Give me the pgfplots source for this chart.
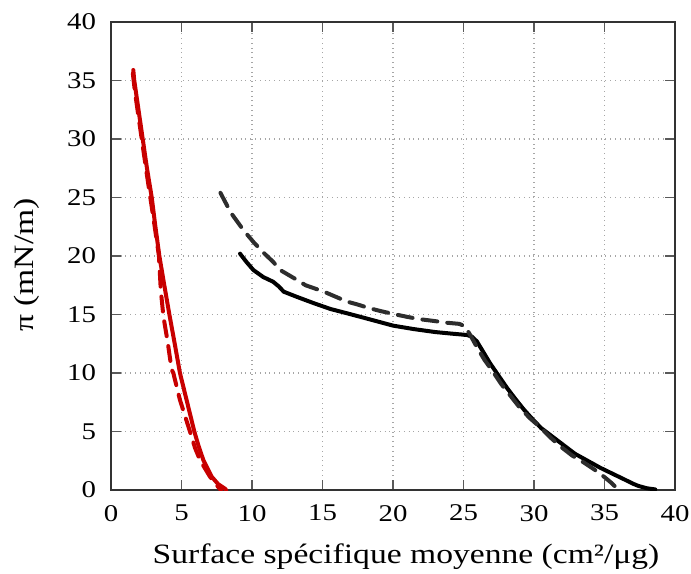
\documentclass[border=0pt]{standalone}
\usepackage{fontspec}
\setmainfont{Liberation Serif}[FakeStretch=1.2]
\usepackage{pgfplots}
\pgfplotsset{compat=1.18}
\definecolor{myred}{RGB}{200,0,0}
\definecolor{mydark}{RGB}{45,45,45}
\begin{document}
\begin{tikzpicture}
\begin{axis}[
  scale only axis,
  width=282pt, height=234pt,
  xmin=0, xmax=40, ymin=0, ymax=40,
  xtick={0,5,...,40}, ytick={0,5,...,40},
  grid=major,
  major grid style={dotted, gray!70, line width=0.6pt},
  tick align=inside,
  major tick length=5pt,
  tick style={gray!70!black, line width=0.6pt},
  axis line style={gray!40!black, line width=0.6pt},
  tick label style={font=\fontsize{12}{14}\selectfont},
  label style={font=\fontsize{14}{16}\selectfont},
  /pgf/number format/assume math mode=true,
  xlabel={Surface spécifique moyenne (cm²/μg)},
  ylabel={π (mN/m)},
  xticklabel style={yshift=-4pt, inner xsep=0.5pt},
  yticklabel style={xshift=-4pt},
  xlabel style={at={(axis description cs:0.523,0)}, anchor=base, yshift=-36.5pt},
  ylabel style={at={(axis description cs:0,0.481)}, anchor=center, yshift=42pt},
  every axis plot/.append style={line join=round, line cap=round},
]
% red solid
\addplot[myred, line width=2pt] coordinates {
(1.58,35.9) (1.65,35) (1.95,32.5) (2.25,30) (2.55,27.5) (2.89,25) (3.15,22.5) (3.43,20) (3.78,17.5) (4.14,15) (4.52,12.5) (4.89,10) (5.4,7.5) (5.91,5) (6.2,3.8) (6.55,2.56) (7.14,1.14) (7.6,0.5) (8.1,0.1) (8.16,0)};
% red dashed
\addplot[myred, line width=2pt, dash pattern=on 7.5pt off 5pt] coordinates {
(1.55,35.6) (1.7,34) (2.0,31.5) (2.3,29) (2.6,26.5) (2.85,24.5) (3.1,22.5) (3.4,20) (3.53,17.1) (3.72,14.8) (4.0,12.8) (4.3,10.3) (4.42,10) (4.89,7.7) (5.6,5) (5.96,3.6) (6.31,2.56) (7.02,1.14) (7.5,0.4) (7.8,0)};
% black solid
\addplot[black, line width=2pt] coordinates {
(9.15,20.2) (9.6,19.5) (10.1,18.8) (10.8,18.2) (11.5,17.8) (11.9,17.4) (12.25,16.95) (13.2,16.5) (14.4,15.96) (15.57,15.47) (16.75,15.1) (18.0,14.7) (20.0,14.05) (21.5,13.75) (23.0,13.5) (24.3,13.35) (25.25,13.25) (25.6,13.1) (25.95,12.7) (26.4,11.8) (26.9,10.8) (27.5,9.75) (28.1,8.7) (28.7,7.75) (29.3,6.85) (29.9,6.05) (30.5,5.3) (31.1,4.75) (31.7,4.2) (32.3,3.65) (32.9,3.1) (33.5,2.7) (34.1,2.3) (34.7,1.9) (35.3,1.55) (35.9,1.2) (36.5,0.85) (37.0,0.55) (37.4,0.35) (38.0,0.15) (38.6,0.05)};
% black dashed
\addplot[mydark, line width=2pt, dash pattern=on 7.5pt off 5pt] coordinates {
(7.76,25.4) (8.5,23.7) (9.4,22.2) (10.1,21.2) (10.8,20.3) (11.5,19.5) (12.0,18.8) (13.2,17.95) (13.8,17.5) (15.1,16.95) (16.75,16.1) (17.5,15.85) (18.3,15.55) (19.1,15.3) (20.0,15.05) (21.0,14.8) (21.9,14.6) (22.9,14.45) (23.8,14.3) (24.7,14.2) (25.1,14.0) (25.5,13.2) (26.0,12.1) (26.5,11.1) (27.1,10.1) (27.65,9.1) (28.3,8.1) (28.95,7.1) (29.7,6.15) (30.5,5.3) (31.2,4.45) (31.9,3.7) (32.7,2.95) (33.6,2.3) (34.4,1.65) (35.0,1.1) (35.5,0.6) (36.0,0.0)};
\end{axis}
\pgfresetboundingbox
\path[use as bounding box] ([xshift=-55.5pt,yshift=-41.5pt]current axis.south west) rectangle ([xshift=8pt,yshift=11pt]current axis.north east);
\end{tikzpicture}
\end{document}
